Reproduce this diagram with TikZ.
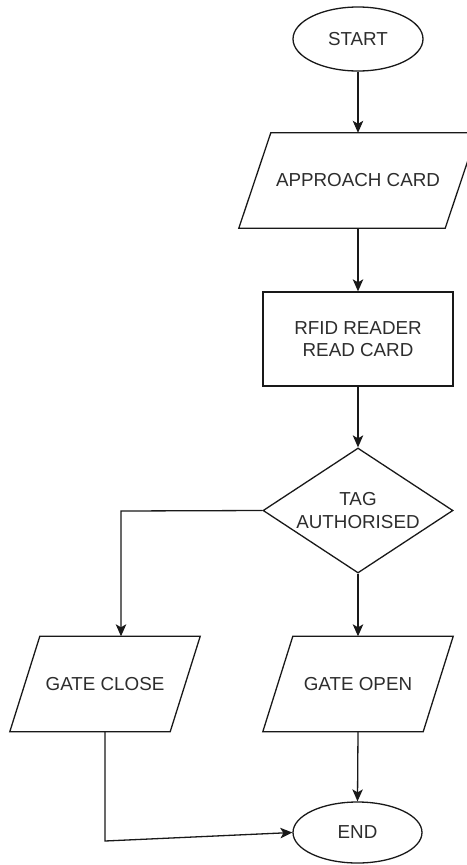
\documentclass[tikz,border=0pt]{standalone}
\usepackage{fontspec}
\setmainfont{Liberation Sans}
\usetikzlibrary{shapes.geometric,arrows.meta,calc}
\definecolor{txt}{RGB}{45,45,45}
\definecolor{ln}{RGB}{25,25,25}
\begin{document}
\begin{tikzpicture}[x=1pt,y=-1pt,
  lbl/.style={font=\fontsize{18.8}{22.5}\selectfont, text=txt, align=center, inner sep=0pt},
  term/.style={lbl, ellipse, draw=ln, line width=1.3pt, minimum width=#1, minimum height=62pt},
  procbox/.style={lbl, rectangle, draw=ln, line width=1.3pt, minimum width=190pt, minimum height=94pt},
  decbox/.style={lbl, diamond, draw=ln, line width=1.3pt, minimum width=190pt, minimum height=125pt, aspect=1.52},
  iobox/.style={lbl, rectangle, minimum height=95pt},
  shapeline/.style={draw=ln, line width=1.3pt, line join=miter},
  conn/.style={draw=ln, line width=1.3pt, -{Stealth[length=12pt,width=10.5pt,inset=3pt]}}
]
\useasboundingbox (0,0) rectangle (466,865);
\fill[white] (0,0) rectangle (466,865);

\node[term=130pt, minimum height=64pt] (start) at (358,39) {START};
\node[iobox, minimum width=206pt] (app) at (358,180.5) {APPROACH CARD};
\draw[shapeline] ($(app.south west)+(-16,0)$) -- ($(app.north west)+(16,0)$) -- ($(app.north east)+(16,0)$) -- ($(app.south east)+(-16,0)$) -- cycle;
\node[procbox] (rfid) at (358,339) {RFID READER\\READ CARD};
\node[decbox] (tag) at (358,510.5) {TAG\\AUTHORISED};
\node[iobox, minimum width=160pt] (gc) at (105,684) {GATE CLOSE};
\draw[shapeline] ($(gc.south west)+(-15,0)$) -- ($(gc.north west)+(15,0)$) -- ($(gc.north east)+(15,0)$) -- ($(gc.south east)+(-15,0)$) -- cycle;
\node[iobox, minimum width=160pt] (go) at (358,684) {GATE OPEN};
\draw[shapeline] ($(go.south west)+(-15,0)$) -- ($(go.north west)+(15,0)$) -- ($(go.north east)+(15,0)$) -- ($(go.south east)+(-15,0)$) -- cycle;
\node[term=129pt, minimum height=61pt] (end) at (357.5,832.5) {END};

\coordinate (cl) at (121,511);
\coordinate (cb) at (105,841);

\draw[conn] (start.south) -- (app.north);
\draw[conn] (app.south) -- (rfid.north);
\draw[conn] (rfid.south) -- (tag.north);
\draw[conn] (tag.west) -- (cl) -- (cl |- gc.north);
\draw[conn] (tag.south) -- (go.north);
\draw[conn] (go.south) -- (end.north);
\draw[conn] (gc.south) -- (cb) -- (end.west);
\end{tikzpicture}
\end{document}
